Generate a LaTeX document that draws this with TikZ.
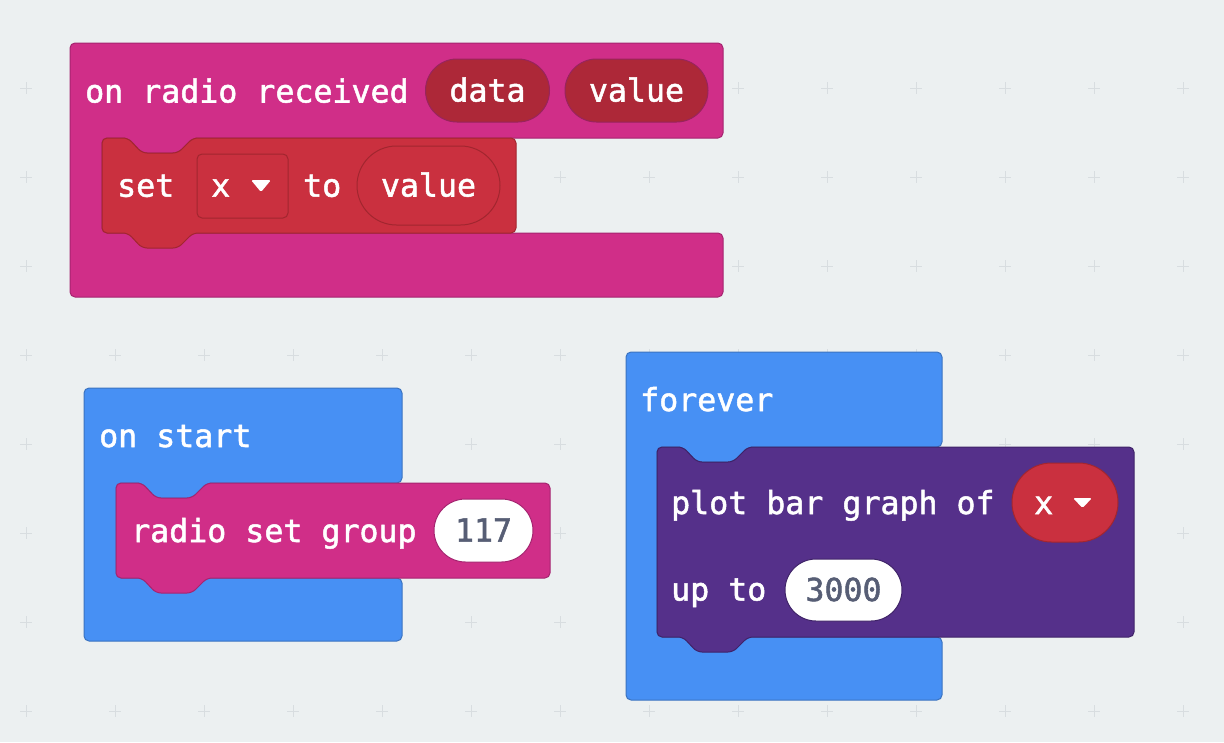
\documentclass[tikz,border=0pt]{standalone}
\usepackage{fontspec}
\usepackage{tikz}
\usetikzlibrary{shapes.misc}
\newfontfamily\blockfont{DejaVu Sans Mono}[FakeBold=1.6]
\newcommand{\blocktext}{\blockfont\fontsize{31.6pt}{36pt}\selectfont}
\definecolor{canvas}{HTML}{ECF0F1}
\definecolor{gridmark}{HTML}{D8DDE0}
\definecolor{radiopink}{HTML}{D02E88}
\definecolor{radioline}{HTML}{A52470}
\definecolor{argred}{HTML}{AD2838}
\definecolor{argline}{HTML}{98245C}
\definecolor{varred}{HTML}{CA303F}
\definecolor{varline}{HTML}{A2262F}
\definecolor{eventblue}{HTML}{4790F4}
\definecolor{eventline}{HTML}{3B73C0}
\definecolor{ledpurple}{HTML}{55308A}
\definecolor{ledline}{HTML}{3F2368}
\definecolor{numgray}{HTML}{575E75}
% block outlines (left, top, right, bottom ...)
\newcommand{\stmtpath}[4]{(#1,{(#2+#4)/2}) -- (#1,#2) -- ({#1+26},#2) -- ({#1+40},{#2+15}) -- ({#1+76},{#2+15}) -- ({#1+91},#2) -- (#3,#2) -- (#3,#4) -- ({#1+91},#4) -- ({#1+76},{#4+15}) -- ({#1+40},{#4+15}) -- ({#1+26},#4) -- (#1,#4) -- cycle}
\newcommand{\cpath}[7]{(#1,{(#2+#7)/2}) -- (#1,#2) -- (#3,#2) -- (#3,#4) -- ({#5+91},#4) -- ({#5+76},{#4+15}) -- ({#5+40},{#4+15}) -- ({#5+26},#4) -- (#5,#4) -- (#5,#6) -- (#3,#6) -- (#3,#7) -- (#1,#7) -- cycle}
\tikzstyle{blk}=[rounded corners=5pt,line width=1pt]
\tikzstyle{lbl}=[inner sep=0pt,anchor=west,text=white,font=\blocktext,text height=22pt,text depth=0pt]
\tikzstyle{pill}=[rounded rectangle,inner sep=0pt,line width=1pt,text=white,font=\blocktext,text height=22pt,text depth=0pt]
\tikzstyle{numpill}=[pill,fill=white,text=numgray]
\tikzstyle{dropbox}=[rectangle,rounded corners=5pt,line width=1pt,fill=varred,draw=varline,minimum width=91pt,minimum height=64pt]
\tikzstyle{caret}=[fill=white,rounded corners=1.5pt]
\tikzstyle{grid}=[draw=gridmark,line width=1pt]

\begin{document}
\begin{tikzpicture}[x=1pt,y=-1pt]
\useasboundingbox (0,0) rectangle (1224,742);
\fill[canvas] (0,0) rectangle (1224,742);
% workspace grid
\foreach \gx in {0,...,13}
  \foreach \gy in {0,...,7}
    \draw[grid] ({26+89*\gx-6},{88+89*\gy}) -- ++(12,0) ({26+89*\gx},{88+89*\gy-6}) -- ++(0,12);

% on radio received
\filldraw[blk,fill=radiopink,draw=radioline] \cpath{70}{43}{723}{138}{102}{233}{297};
\filldraw[blk,fill=varred,draw=varline] \stmtpath{102}{138}{516}{233};
\node[lbl] (onradio) at (85,91.5) {on radio received};
\node[pill,fill=argred,draw=argline,minimum width=124pt,minimum height=63pt] (data) at (487.5,90.5) {data};
\node[pill,fill=argred,draw=argline,minimum width=143pt,minimum height=63pt] (value) at (636.5,90.5) {value};
\node[lbl] (set) at (117,185.7) {set};
\node[dropbox] (xdrop) at (242.5,186) {};
\node[lbl] (xname) at (211,185.7) {x};
\fill[caret] (251,180) -- (271,180) -- (261,192) -- cycle;
\node[lbl] (to) at (303,185.7) {to};
\node[pill,fill=varred,draw=varline,minimum width=143pt,minimum height=79pt] (setvalue) at (428.5,185.5) {value};

% on start
\filldraw[blk,fill=eventblue,draw=eventline] \cpath{84}{388}{402}{483}{116}{578}{641};
\filldraw[blk,fill=radiopink,draw=radioline] \stmtpath{116}{483}{550}{578};
\node[lbl] (onstart) at (99,436) {on start};
\node[lbl] (setgroup) at (131,531) {radio set group};
\node[numpill,draw=radioline,minimum width=99pt,minimum height=63pt] (group) at (483.5,530.5) {117};

% forever
\filldraw[blk,fill=eventblue,draw=eventline] \cpath{626}{352}{942}{447}{657}{637}{700};
\filldraw[blk,fill=ledpurple,draw=ledline] \stmtpath{657}{447}{1134}{637};
\node[lbl] (forever) at (640,400) {forever};
\node[lbl] (plotbar) at (671,503) {plot bar graph of};
\node[pill,fill=varred,draw=varline,minimum width=106pt,minimum height=79pt] (xvar) at (1065,502.5) {};
\node[lbl] (xname2) at (1034,503) {x};
\fill[caret] (1073,498) -- (1092,498) -- (1082.5,508) -- cycle;
\node[lbl] (upto) at (671,589.5) {up to};
\node[numpill,draw=ledline,minimum width=117pt,minimum height=62pt] (upper) at (843.5,590) {3000};
\end{tikzpicture}
\end{document}
